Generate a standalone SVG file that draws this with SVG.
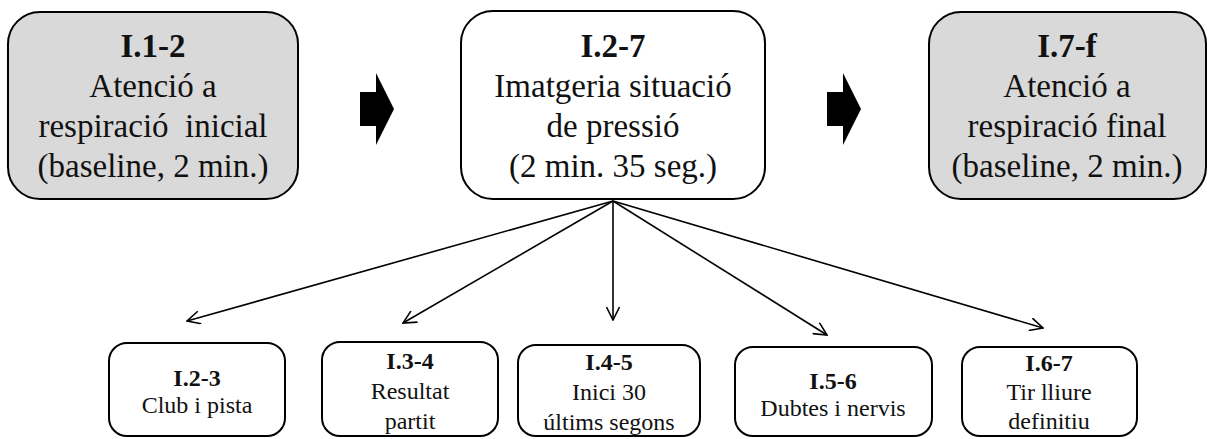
<svg xmlns="http://www.w3.org/2000/svg" width="1213" height="439" viewBox="0 0 1213 439">
<style>
.box{stroke:#000;stroke-width:2}
.gray{fill:#d9d9d9}
.white{fill:#fff}
.big{font-family:"Liberation Serif","Times New Roman",serif;font-size:33px;fill:#111;text-anchor:middle}
.small{font-family:"Liberation Serif","Times New Roman",serif;font-size:24px;fill:#111;text-anchor:middle}
.b{font-weight:bold}
.con{stroke:#000;stroke-width:1.6;fill:none}
.block{fill:#000}
</style>
<defs>
<marker id="ah" viewBox="0 0 15 14" refX="14" refY="7" markerWidth="15" markerHeight="14" markerUnits="userSpaceOnUse" orient="auto">
<path d="M1,0.5 L14,7 L1,13.5" fill="none" stroke="#000" stroke-width="1.6"/>
</marker>
</defs>
<rect width="1213" height="439" fill="#fff"/>
<g id="node-i12">
<rect class="box gray" x="8" y="12" width="290" height="187" rx="32"/>
<text class="big b" x="153" y="57">I.1-2</text>
<text class="big" x="153" y="97">Atenció a</text>
<text class="big" x="153" y="137" xml:space="preserve">respiració  inicial</text>
<text class="big" x="153" y="177">(baseline, 2 min.)</text>
</g>
<g id="node-i27">
<rect class="box white" x="461" y="11" width="304" height="188" rx="32"/>
<text class="big b" x="613" y="57">I.2-7</text>
<text class="big" x="613" y="97">Imatgeria situació</text>
<text class="big" x="613" y="137">de pressió</text>
<text class="big" x="613" y="177">(2 min. 35 seg.)</text>
</g>
<g id="node-i7f">
<rect class="box gray" x="929" y="12" width="277" height="187" rx="32"/>
<text class="big b" x="1067" y="57">I.7-f</text>
<text class="big" x="1067" y="97">Atenció a</text>
<text class="big" x="1067" y="137">respiració final</text>
<text class="big" x="1067" y="177">(baseline, 2 min.)</text>
</g>
<g id="node-i23">
<rect class="box white" x="109" y="343" width="176" height="93" rx="18"/>
<text class="small b" x="197" y="386">I.2-3</text>
<text class="small" x="197" y="413">Club i pista</text>
</g>
<g id="node-i34">
<rect class="box white" x="322" y="342" width="176" height="94" rx="18"/>
<text class="small b" x="410" y="369">I.3-4</text>
<text class="small" x="410" y="399">Resultat</text>
<text class="small" x="410" y="429">partit</text>
</g>
<g id="node-i45">
<rect class="box white" x="518" y="345" width="182" height="91" rx="18"/>
<text class="small b" x="609" y="370">I.4-5</text>
<text class="small" x="609" y="400">Inici 30</text>
<text class="small" x="609" y="430">últims segons</text>
</g>
<g id="node-i56">
<rect class="box white" x="735" y="347" width="197" height="89" rx="18"/>
<text class="small b" x="833" y="389">I.5-6</text>
<text class="small" x="833" y="416">Dubtes i nervis</text>
</g>
<g id="node-i67">
<rect class="box white" x="962" y="347" width="175" height="89" rx="18"/>
<text class="small b" x="1049" y="371">I.6-7</text>
<text class="small" x="1049" y="400">Tir lliure</text>
<text class="small" x="1049" y="429">definitiu</text>
</g>
<g id="connectors">
<polygon class="block" points="360,92 376,92 376,73 394,109 376,145 376,126 360,126"/>
<polygon class="block" points="827,92 843,92 843,73 861,109 843,145 843,126 827,126"/>
<line class="con" x1="613" y1="201" x2="187" y2="321" marker-end="url(#ah)"/>
<line class="con" x1="613" y1="201" x2="403" y2="323" marker-end="url(#ah)"/>
<line class="con" x1="613" y1="201" x2="613" y2="320" marker-end="url(#ah)"/>
<line class="con" x1="613" y1="201" x2="827" y2="335" marker-end="url(#ah)"/>
<line class="con" x1="613" y1="201" x2="1043" y2="328" marker-end="url(#ah)"/>
</g>
</svg>
